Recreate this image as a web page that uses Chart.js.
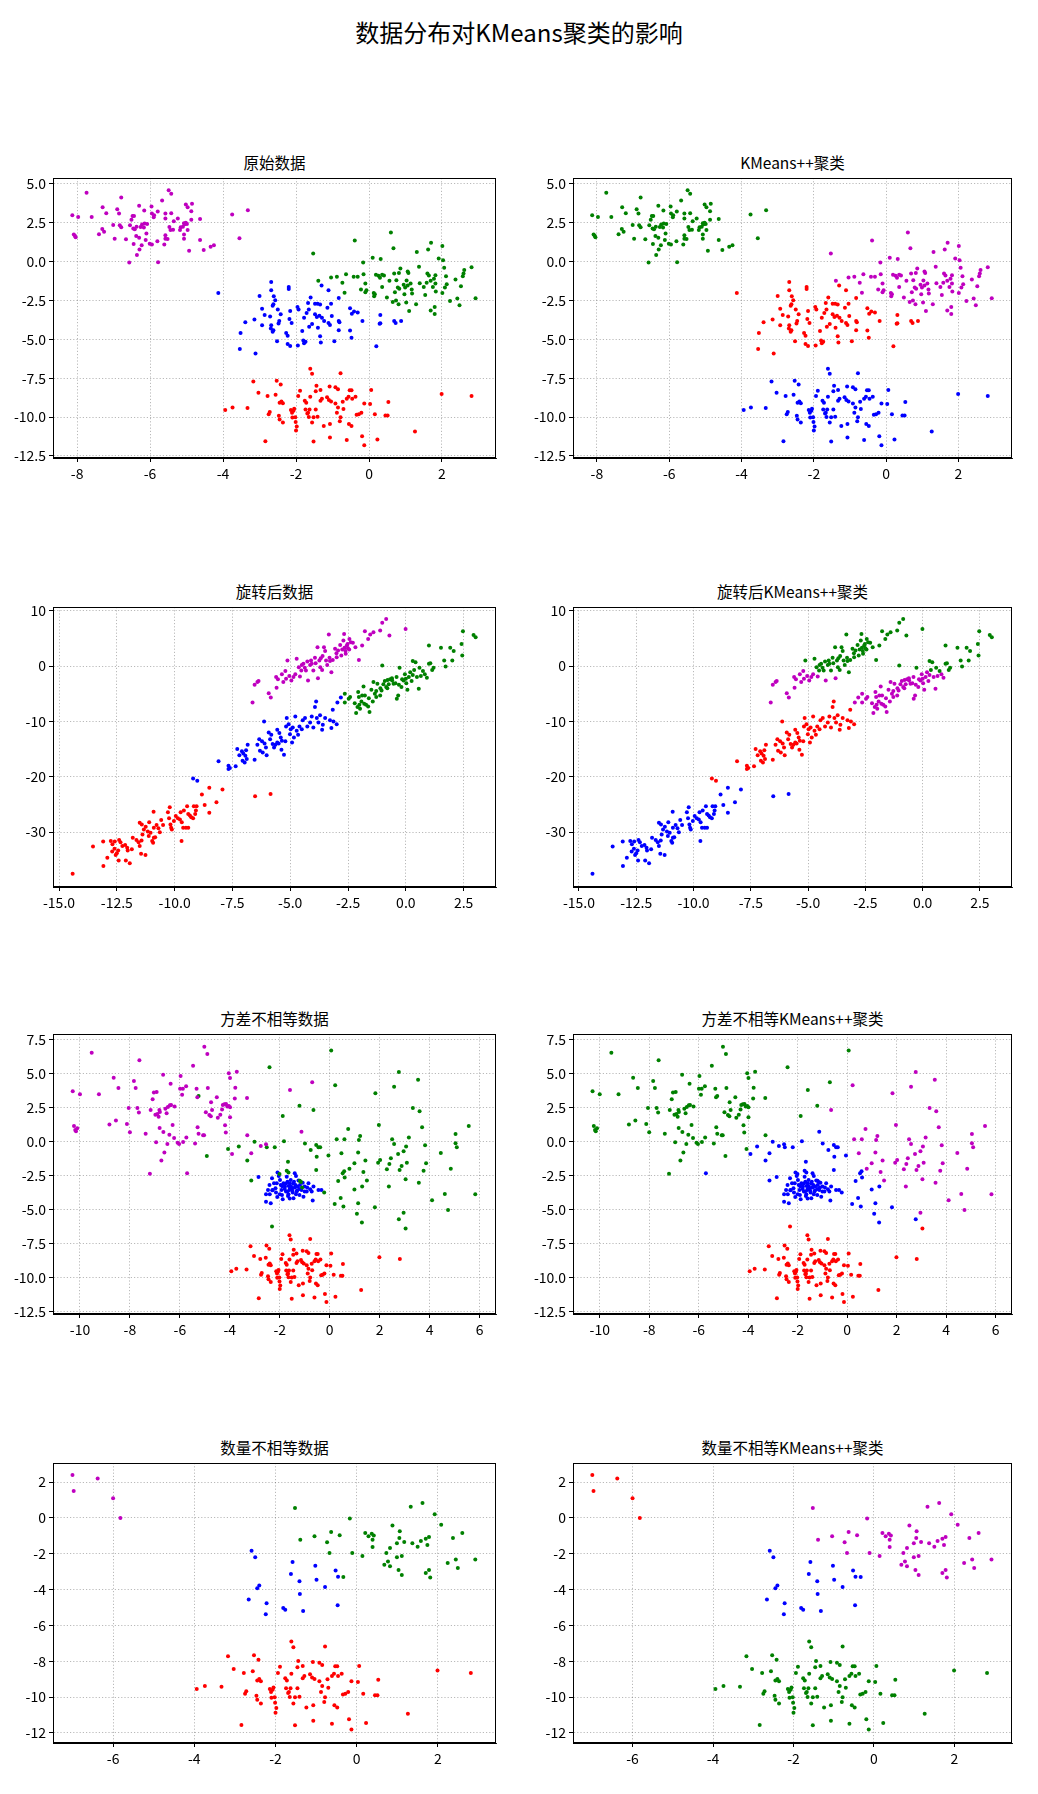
<!DOCTYPE html>
<html>
<head>
<meta charset="utf-8">
<script src="https://cdn.jsdelivr.net/npm/chart.js@4/dist/chart.umd.min.js"></script>
<style>
  html, body { margin: 0; padding: 0; background: #fff; }
  body { width: 1038px; height: 1794px; position: relative; overflow: hidden;
         font-family: "Noto Sans CJK SC", "Noto Sans", sans-serif; }
  .suptitle { position: absolute; left: 0; width: 1038px; top: 13px; text-align: center;
              font-size: 24px; line-height: 38px; color: #000; }
  .ax-title { position: absolute; text-align: center; font-size: 15.5px; line-height: 20px; color: #000; }
  canvas { position: absolute; }
</style>
</head>
<body>
<div class="suptitle">数据分布对KMeans聚类的影响</div>
<script>
// ---------- data ----------
// naming: <dataset>_<true colour><kmeans colour>

// red blob, identical in 原始 / 方差不相等 / 数量不相等
const redBlob = [[-3.94,-9.55],[-3.74,-9.38],[-3.33,-9.42],[-3.17,-7.72],[-3.03,-8.43],[-2.84,-11.55],[-2.78,-8.65],[-2.75,-9.81],[-2.72,-9.68],[-2.56,-8.56],[-2.53,-7.66],[-2.47,-9.92],[-2.45,-10.15],[-2.42,-7.91],[-2.45,-9.08],[-2.40,-8.99],[-2.36,-9.11],[-2.36,-10.35],[-2.14,-9.55],[-2.11,-9.72],[-2.10,-10.03],[-2.02,-10.01],[-2.07,-9.59],[-2.05,-9.46],[-2.01,-10.31],[-1.98,-10.61],[-2.00,-10.87],[-1.94,-8.65],[-1.89,-8.30],[-1.76,-8.95],[-1.72,-9.08],[-1.74,-9.51],[-1.69,-9.77],[-1.65,-9.99],[-1.61,-8.70],[-1.61,-6.90],[-1.56,-7.22],[-1.56,-10.35],[-1.52,-10.01],[-1.63,-9.51],[-1.67,-9.72],[-1.52,-11.57],[-1.46,-8.34],[-1.46,-9.51],[-1.44,-7.98],[-1.41,-9.98],[-1.33,-8.26],[-1.33,-8.95],[-1.29,-8.82],[-1.24,-10.58],[-1.15,-8.73],[-1.10,-8.90],[-1.04,-8.99],[-1.08,-8.04],[-1.07,-10.45],[-1.07,-11.32],[-0.92,-8.08],[-0.85,-8.21],[-0.92,-9.12],[-0.88,-9.72],[-0.85,-9.38],[-0.78,-7.18],[-0.78,-10.01],[-0.80,-10.27],[-0.72,-9.01],[-0.70,-9.48],[-0.61,-8.82],[-0.56,-8.69],[-0.61,-11.48],[-0.55,-10.45],[-0.53,-8.28],[-0.48,-8.28],[-0.48,-10.58],[-0.46,-8.82],[-0.37,-8.69],[-0.34,-9.85],[-0.28,-9.81],[-0.21,-9.72],[-0.19,-11.23],[-0.13,-11.81],[-0.13,-9.12],[0.03,-9.16],[0.06,-8.26],[0.16,-9.81],[0.23,-11.44],[0.45,-9.89],[0.51,-9.89],[0.53,-9.03],[1.26,-10.93],[1.99,-8.52],[2.81,-8.65]];

// 原始数据
const orig_mg = [[-8.13,2.98],[-7.97,2.87],[-8.09,1.73],[-8.04,1.56],[-8.06,1.65],[-7.74,4.42],[-7.60,2.87],[-7.40,1.75],[-7.30,3.49],[-7.20,3.11],[-7.31,2.09],[-7.26,1.92],[-7.01,2.35],[-6.97,1.47],[-6.90,3.36],[-6.85,3.08],[-6.79,4.12],[-6.83,2.33],[-6.79,2.20],[-6.66,1.43],[-6.57,-0.06],[-6.55,2.33],[-6.51,2.68],[-6.48,2.93],[-6.44,2.93],[-6.46,2.12],[-6.42,2.07],[-6.37,2.24],[-6.45,1.13],[-6.38,1.64],[-6.30,1.53],[-6.36,0.42],[-6.30,3.58],[-6.29,0.78],[-6.23,1.04],[-6.26,2.22],[-6.22,2.38],[-6.17,2.18],[-6.15,2.44],[-6.08,2.42],[-6.16,3.28],[-6.10,1.81],[-6.12,1.38],[-6.01,1.15],[-5.96,3.54],[-5.89,2.98],[-5.95,3.08],[-5.90,2.85],[-5.95,1.10],[-5.79,3.21],[-5.78,-0.04],[-5.80,1.30],[-5.67,3.92],[-5.61,1.10],[-5.58,3.08],[-5.58,2.76],[-5.58,1.69],[-5.58,1.47],[-5.52,1.45],[-5.49,4.59],[-5.42,4.35],[-5.47,2.22],[-5.44,2.03],[-5.42,3.11],[-5.37,2.05],[-5.35,2.59],[-5.24,2.76],[-5.18,2.03],[-5.16,2.20],[-5.10,2.24],[-5.07,2.46],[-5.02,2.50],[-5.05,2.39],[-4.99,2.41],[-4.97,2.03],[-5.07,1.73],[-5.07,1.47],[-5.02,3.67],[-4.97,3.49],[-4.87,3.24],[-4.85,3.71],[-4.93,0.70],[-4.87,2.68],[-4.63,2.74],[-4.63,1.38],[-4.53,0.74],[-4.34,0.95],[-4.25,1.04],[-3.75,3.02],[-3.55,1.49],[-3.32,3.30]];
const orig_gm = [[-1.53,0.52],[-1.39,-1.24],[-1.04,-1.03],[-0.88,-0.98],[-0.73,-1.37],[-0.67,-2.00],[-0.63,-0.81],[-0.39,1.36],[-0.42,-0.98],[-0.31,-0.98],[-0.22,-1.80],[-0.16,-0.06],[-0.15,-0.81],[-0.10,-1.97],[-0.07,-1.84],[-0.10,-1.41],[0.10,0.24],[0.13,-2.02],[0.14,-2.23],[0.16,-2.10],[0.19,-0.85],[0.26,-0.92],[0.30,-1.05],[0.36,-0.85],[0.41,-0.90],[0.32,0.16],[0.36,-1.63],[0.49,-2.32],[0.56,-1.24],[0.60,1.86],[0.67,0.85],[0.69,-0.77],[0.71,-1.97],[0.65,-2.60],[0.74,-2.50],[0.81,-2.75],[0.75,-1.20],[0.79,-1.67],[0.83,-1.75],[0.86,-0.45],[0.82,-0.73],[0.95,-1.50],[0.99,-1.67],[1.06,-1.54],[0.97,-2.10],[1.03,-1.22],[1.06,-0.64],[1.08,-0.73],[1.02,-2.64],[1.10,-3.18],[1.14,-1.41],[1.17,-1.80],[1.18,-2.06],[1.31,0.61],[1.29,-2.75],[1.37,-0.34],[1.39,-1.39],[1.50,-1.63],[1.54,-2.15],[1.58,-1.37],[1.62,0.78],[1.70,1.21],[1.60,-0.77],[1.64,-0.90],[1.69,-3.14],[1.80,-2.92],[1.80,-3.37],[1.69,-1.24],[1.75,-1.63],[1.78,-1.11],[1.82,-1.41],[1.82,-0.88],[1.83,-1.93],[1.91,0.20],[2.01,1.00],[2.03,0.09],[2.01,-2.02],[2.06,-0.40],[2.11,-0.94],[2.13,-1.46],[2.08,-1.67],[2.22,-2.53],[2.37,-1.16],[2.42,-2.38],[2.48,-2.81],[2.52,-1.59],[2.57,-0.94],[2.61,-0.55],[2.59,-0.77],[2.81,-0.36],[2.92,-2.36]];
const orig_br = [[-4.13,-2.02],[-3.52,-4.60],[-3.54,-5.63],[-3.39,-3.91],[-3.11,-5.91],[-3.14,-3.72],[-3.00,-2.21],[-2.93,-3.03],[-2.86,-3.44],[-2.93,-4.10],[-2.71,-3.54],[-2.68,-4.10],[-2.69,-4.30],[-2.64,-4.52],[-2.62,-4.41],[-2.68,-1.31],[-2.68,-1.84],[-2.61,-2.23],[-2.62,-2.75],[-2.57,-2.49],[-2.64,-2.84],[-2.52,-5.12],[-2.50,-3.09],[-2.48,-3.99],[-2.46,-3.82],[-2.42,-3.39],[-2.27,-4.60],[-2.23,-4.77],[-2.23,-5.30],[-2.16,-5.43],[-2.20,-1.63],[-2.20,-1.76],[-2.16,-3.18],[-2.12,-3.95],[-2.18,-3.70],[-1.96,-2.92],[-1.93,-3.09],[-1.95,-5.40],[-1.83,-4.47],[-1.80,-5.07],[-1.78,-5.25],[-1.74,-5.16],[-1.78,-3.61],[-1.71,-3.31],[-1.67,-2.66],[-1.65,-3.09],[-1.60,-2.32],[-1.64,-4.19],[-1.56,-4.02],[-1.48,-2.72],[-1.41,-2.72],[-1.34,-2.77],[-1.48,-3.39],[-1.43,-3.56],[-1.36,-3.48],[-1.40,-4.25],[-1.34,-4.81],[-1.32,-5.20],[-1.30,-1.54],[-1.29,-3.61],[-1.23,-3.82],[-1.14,-2.97],[-1.11,-3.95],[-1.07,-4.08],[-1.04,-2.72],[-1.02,-3.50],[-0.95,-5.12],[-0.83,-3.82],[-0.81,-3.91],[-0.83,-4.42],[-0.52,-3.00],[-0.47,-3.35],[-0.41,-3.22],[-0.52,-4.43],[-0.48,-4.90],[-0.31,-3.27],[-0.18,-3.83],[0.20,-5.44],[0.31,-3.44],[0.29,-4.00],[0.31,-3.96],[0.69,-3.82],[0.73,-3.95],[0.88,-3.82],[-1.11,-1.84],[-0.83,-2.34]];

// 旋转后数据
const rot_rb = [[-14.41,-37.5],[-13.53,-32.6],[-13.09,-31.7],[-13.08,-36.1],[-12.91,-34.6],[-12.76,-31.6],[-12.69,-32.2],[-12.59,-31.7],[-12.40,-31.4],[-12.34,-31.8],[-12.70,-33.5],[-12.60,-33.0],[-12.55,-34.1],[-12.50,-33.8],[-12.44,-33.3],[-12.42,-35.1],[-12.26,-32.5],[-12.14,-32.3],[-12.05,-32.8],[-12.03,-33.3],[-11.85,-33.1],[-12.11,-35.1],[-11.94,-35.6],[-11.81,-31.0],[-11.65,-31.4],[-11.56,-31.8],[-11.51,-32.5],[-11.43,-31.5],[-11.45,-33.9],[-11.26,-34.1],[-11.51,-28.3],[-11.42,-28.6],[-11.33,-29.5],[-11.39,-30.4],[-11.25,-29.0],[-11.16,-29.9],[-11.04,-30.1],[-11.12,-30.7],[-10.93,-31.9],[-10.97,-31.6],[-10.90,-31.0],[-11.10,-28.2],[-10.90,-29.2],[-10.78,-28.7],[-10.70,-29.3],[-10.84,-30.9],[-10.91,-26.3],[-10.58,-27.8],[-10.50,-28.7],[-10.64,-30.0],[-10.29,-26.4],[-10.21,-25.5],[-10.24,-27.5],[-10.18,-28.6],[-10.12,-29.5],[-10.15,-29.2],[-10.03,-28.0],[-9.95,-27.1],[-9.86,-27.5],[-9.77,-27.7],[-9.74,-26.4],[-9.69,-28.2],[-9.70,-31.6],[-9.63,-29.2],[-9.51,-29.2],[-9.41,-29.2],[-9.60,-26.1],[-9.46,-25.3],[-9.41,-26.7],[-9.34,-27.0],[-9.28,-27.3],[-9.20,-27.5],[-9.11,-26.7],[-9.17,-25.3],[-9.05,-25.3],[-9.08,-26.1],[-8.82,-23.2],[-8.70,-25.1],[-8.50,-22.0],[-8.50,-26.5],[-8.19,-24.6],[-7.93,-22.3],[-6.52,-23.5],[-5.85,-23.1]];
const rot_br = [[-9.20,-20.3],[-9.02,-20.7],[-8.10,-17.2],[-7.67,-18.0],[-7.61,-18.4],[-7.67,-18.6],[-7.36,-18.1],[-7.29,-15.0],[-7.20,-16.1],[-7.09,-15.4],[-7.03,-15.8],[-6.94,-16.2],[-7.06,-17.1],[-6.97,-17.4],[-6.88,-16.8],[-6.91,-15.2],[-6.84,-14.2],[-6.54,-16.9],[-6.42,-14.2],[-6.34,-13.2],[-6.31,-15.3],[-6.22,-13.6],[-6.19,-15.6],[-6.11,-14.0],[-6.13,-10.0],[-6.05,-14.7],[-6.02,-16.1],[-5.93,-12.0],[-5.87,-13.2],[-5.82,-12.4],[-5.76,-14.1],[-5.70,-14.7],[-5.64,-14.2],[-5.56,-13.8],[-5.50,-14.0],[-5.38,-15.1],[-5.56,-11.5],[-5.47,-12.1],[-5.41,-12.9],[-5.36,-13.5],[-5.27,-16.0],[-5.21,-13.6],[-5.18,-10.9],[-5.15,-9.4],[-5.07,-10.5],[-5.01,-12.3],[-4.92,-13.8],[-4.98,-11.4],[-4.89,-11.1],[-4.84,-12.9],[-4.78,-9.1],[-4.72,-11.7],[-4.66,-12.4],[-4.60,-10.9],[-4.50,-11.4],[-4.46,-9.8],[-4.36,-9.4],[-4.26,-10.9],[-4.14,-10.2],[-4.07,-9.1],[-4.00,-11.1],[-3.93,-7.4],[-3.88,-6.4],[-3.85,-9.4],[-3.78,-10.2],[-3.71,-8.9],[-3.62,-11.5],[-3.59,-10.6],[-3.49,-9.4],[-3.28,-9.8],[-3.22,-11.2],[-3.16,-7.9],[-3.13,-10.0],[-2.99,-10.5]];
const rot_bm = [[-2.96,-6.6],[-2.81,-5.7]];
const rot_mm = [[-6.63,-6.6],[-6.54,-3.4],[-6.42,-2.9],[-6.37,-2.7],[-5.93,-4.9],[-5.84,-5.7],[-5.61,-2.0],[-5.53,-2.4],[-5.59,-3.9],[-5.36,-1.5],[-5.30,-2.9],[-5.21,-0.9],[-5.18,-2.3],[-5.04,-1.8],[-4.95,-2.6],[-4.86,-2.0],[-4.78,-1.5],[-4.58,-1.9],[-4.23,-2.6],[-3.80,-2.2]];
const rot_mg = [[-5.12,1.0],[-4.72,1.3],[-4.63,-0.2],[-4.52,-0.8],[-4.43,0.4],[-4.37,-0.3],[-4.32,-0.8],[-4.26,0.8],[-4.14,0.2],[-4.07,0.4],[-4.00,-0.8],[-3.93,1.5],[-3.82,3.4],[-3.74,1.0],[-3.68,1.4],[-3.62,-0.7],[-3.54,3.4],[-3.49,2.7],[-3.45,1.0],[-3.33,5.7],[-3.28,0.9],[-3.22,-1.1],[-3.16,1.1],[-3.06,3.1],[-2.99,1.6],[-2.93,2.8],[-2.84,3.8],[-2.79,1.9],[-2.70,4.6],[-2.67,5.8],[-2.61,2.7],[-2.55,3.7],[-2.50,3.2],[-2.44,4.9],[-2.38,4.3],[-2.29,4.2],[-2.18,3.4],[-2.03,1.1],[-1.89,3.7],[-1.77,6.3],[-1.63,4.9],[-1.54,5.7],[-1.40,6.1],[-1.11,6.4],[-1.02,7.8],[-0.85,8.5],[-0.71,5.5],[-0.01,6.7],[-4.5,0.2],[-4.1,1.0],[-3.9,0.5],[-3.6,1.8],[-3.3,1.5],[-3.0,2.3],[-2.75,3.0],[-2.65,3.3],[-2.6,2.2],[-2.45,3.0],[-2.52,4.0],[-3.4,0.2],[-3.7,-0.2]];
const rot_gg = [[-1.02,0.1],[-0.27,-0.3],[0.30,0.9],[0.36,-0.7],[0.42,0.7],[0.59,-0.3],[0.74,-0.9],[1.00,0.4],[1.06,0.5],[1.14,-0.7],[1.20,-0.3],[1.52,3.3],[1.66,1.0],[1.72,-0.1],[1.92,3.3],[2.01,1.0],[2.07,2.7],[2.41,4.0],[2.44,1.9],[2.47,6.3],[2.93,5.6],[3.02,5.2],[1.00,3.7]];
const rot_gm = [[-2.64,-5.0],[-2.64,-6.6],[-2.47,-5.9],[-2.41,-5.6],[-2.21,-6.7],[-2.15,-8.5],[-2.09,-7.4],[-2.06,-4.7],[-2.03,-5.6],[-2.01,-7.0],[-1.98,-7.7],[-1.92,-6.4],[-1.89,-5.3],[-1.83,-3.7],[-1.80,-6.8],[-1.77,-5.3],[-1.72,-7.0],[-1.63,-7.3],[-1.57,-8.3],[-1.49,-4.3],[-1.43,-6.4],[-1.40,-2.9],[-1.34,-5.0],[-1.28,-4.5],[-1.28,-5.6],[-1.23,-3.2],[-1.11,-5.3],[-1.05,-4.4],[-0.97,-3.3],[-0.91,-2.7],[-0.85,-3.8],[-0.79,-2.5],[-0.74,-3.3],[-0.68,-2.4],[-0.59,-2.6],[-0.53,-3.2],[-0.45,-3.1],[-0.39,-5.9],[-0.33,-5.3],[-0.19,-3.8],[-0.16,-2.4],[-0.10,-2.6],[-0.04,-1.5],[0.02,-3.1],[0.07,-4.3],[0.13,-2.0],[0.19,-1.1],[0.25,-2.7],[0.48,-2.0],[0.56,-4.1],[0.65,-1.8],[0.82,-1.5],[0.91,-2.1],[-0.6,-2.2],[-0.4,-2.0],[-0.3,-3.4],[0.0,-2.3],[0.3,-1.6],[-0.8,-4.0],[-1.1,-4.0],[-1.6,-5.8]];

// 方差不相等数据
const var_mg = [[-10.29,3.68],[-10.00,3.46],[-10.24,1.13],[-10.19,0.83],[-10.11,0.96],[-10.16,0.74],[-9.53,6.52],[-9.24,3.46],[-8.82,1.23],[-8.65,4.68],[-8.56,1.52],[-8.46,3.92],[-8.12,1.27],[-8.05,2.45],[-8.00,0.66],[-7.84,4.44],[-7.77,3.92],[-7.70,2.45],[-7.64,2.11],[-7.62,5.96],[-7.37,0.56],[-7.20,-2.38],[-7.17,2.30],[-7.09,3.09],[-7.04,3.58],[-6.93,3.63],[-6.98,1.96],[-6.90,2.01],[-6.85,1.81],[-6.82,2.30],[-6.80,2.16],[-6.95,-0.07],[-6.81,0.98],[-6.74,-1.42],[-6.67,4.90],[-6.66,0.69],[-6.62,-0.83],[-6.58,2.40],[-6.53,2.06],[-6.48,2.52],[-6.40,2.65],[-6.50,-0.20],[-6.42,0.49],[-6.37,4.24],[-6.35,2.67],[-6.29,1.20],[-6.23,0.25],[-6.21,2.55],[-6.09,-0.10],[-6.03,-0.20],[-5.97,4.80],[-5.99,3.87],[-5.88,3.87],[-5.91,3.43],[-5.87,-0.05],[-5.75,4.04],[-5.74,0.27],[-5.47,5.56],[-5.39,-0.17],[-5.33,3.87],[-5.30,3.24],[-5.29,1.03],[-5.25,0.56],[-5.07,0.44],[-5.03,0.44],[-5.02,6.96],[-4.96,2.13],[-4.90,6.42],[-4.88,3.92],[-4.82,1.94],[-4.76,1.84],[-4.75,2.87],[-4.71,2.30],[-4.52,3.24],[-4.48,1.74],[-4.38,1.96],[-4.31,2.33],[-4.28,2.67],[-4.22,2.72],[-4.15,2.74],[-4.10,2.55],[-4.04,2.60],[-3.99,2.50],[-4.19,1.18],[-4.16,0.64],[-4.04,5.00],[-3.99,4.66],[-3.99,1.76],[-3.80,3.14],[-3.78,3.94],[-3.72,5.12],[-3.31,3.19],[-3.30,0.44],[-1.59,3.77],[-0.70,4.34]];
const var_mb = [[-5.71,-2.35],[-2.76,-0.34],[-2.55,-0.22],[-3.14,-0.88],[-3.91,-0.93],[-1.13,0.71]];
const var_gg = [[-4.92,-1.08],[-4.07,-0.56],[-2.41,5.44],[0.06,6.67],[-1.21,2.62],[-1.88,1.86],[-5.25,3.33]];
const var_gm = [[0.22,4.12],[-0.65,2.30],[0.28,0.15],[0.59,0.15],[0.47,-0.88],[0.74,0.91],[0.79,-2.01],[0.99,-1.62],[1.14,-0.83],[1.17,0.10],[1.22,0.39],[1.35,-2.25],[1.43,-1.42],[1.49,-2.89],[1.83,3.53],[1.94,-1.57],[2.02,-1.37],[1.97,1.20],[2.29,-2.06],[2.37,-3.33],[2.39,-1.67],[2.45,-1.25],[2.50,0.15],[2.58,4.02],[2.58,-0.20],[2.74,-0.93],[2.77,5.10],[2.80,-2.11],[2.88,-1.81],[2.96,-0.74],[2.96,-5.25],[3.04,-2.79],[3.06,-0.39],[3.09,-1.57],[3.17,0.27],[3.33,2.45],[3.54,4.53],[3.57,-3.04],[3.60,2.21],[3.70,1.03],[3.76,-2.16],[3.82,-0.29],[3.86,-1.62],[4.10,-4.34],[4.45,-0.86],[4.61,-3.87],[4.74,-5.05],[4.85,-2.01],[5.04,0.54],[5.04,-0.15],[5.09,-0.44],[5.57,1.13],[5.83,-3.90]];
const var_gb = [[-3.64,-0.39],[-3.01,-0.03],[-3.30,-1.42],[-3.14,-2.89],[-2.52,-0.44],[-2.20,-0.44],[-1.83,0.00],[-1.67,-1.50],[-0.99,-0.17],[-0.76,-0.64],[-0.54,-0.27],[-0.45,-0.44],[-0.38,-0.44],[-0.52,-1.13],[-0.54,-2.11],[-0.05,-1.05],[-0.22,-3.77],[0.20,-4.61],[0.34,-2.92],[0.44,-4.17],[0.52,-2.35],[0.58,-2.21],[0.60,-2.67],[0.55,-4.80],[0.99,-3.55],[1.14,-4.56],[1.09,-5.32],[1.29,-5.98],[1.30,-3.33],[1.81,-4.85],[2.77,-5.74],[-1.72,-2.16],[-1.65,-2.30],[-1.20,-2.90],[-1.10,-3.40],[-1.15,-3.00],[-2.01,-2.40]];
const var_gr = [[-2.31,-6.27],[3.04,-6.42]];
const var_bb = [[-2.85,-2.62],[-2.55,-3.90],[-2.55,-4.44],[-2.36,-4.56],[-2.47,-3.58],[-2.41,-3.21],[-2.31,-2.72],[-2.28,-3.58],[-2.23,-3.09],[-2.17,-3.46],[-2.15,-3.77],[-2.12,-3.09],[-2.09,-2.30],[-2.04,-2.55],[-1.99,-2.84],[-1.96,-3.21],[-1.93,-3.58],[-1.91,-3.95],[-1.88,-4.26],[-1.85,-3.09],[-1.79,-3.33],[-1.75,-3.70],[-1.72,-2.60],[-1.69,-2.97],[-1.67,-4.02],[-1.64,-3.28],[-1.61,-3.58],[-1.59,-3.09],[-1.56,-2.84],[-1.52,-3.46],[-1.48,-3.77],[-1.45,-4.19],[-1.43,-2.97],[-1.40,-2.35],[-1.37,-3.21],[-1.35,-2.55],[-1.32,-3.70],[-1.29,-3.33],[-1.25,-2.89],[-1.21,-3.95],[-1.19,-3.21],[-1.13,-3.58],[-1.08,-3.04],[-1.05,-4.07],[-1.00,-3.33],[-0.92,-3.70],[-0.85,-3.09],[-0.78,-3.53],[-0.72,-3.70],[-0.65,-3.33],[-0.68,-4.36],[-0.45,-3.58],[-0.33,-3.58],[-1.60,-3.50],[-1.50,-3.60],[-1.70,-3.70],[-1.40,-3.40],[-1.80,-3.50],[-1.55,-3.30],[-1.65,-3.90],[-1.30,-3.60],[-1.90,-3.30],[-1.45,-3.10],[-2.00,-3.90],[-1.20,-3.50],[-1.75,-3.10],[-1.35,-3.90],[-1.60,-4.20],[-2.30,-3.60],[-2.40,-3.90],[-2.10,-4.10],[-1.00,-3.70],[-0.90,-3.40]];

// 数量不相等数据
const cnt_mr = [[-7.00,2.39],[-6.97,1.50],[-6.38,2.19],[-6.00,1.09],[-5.82,-0.01]];
const cnt_bb = [[-2.59,-1.83],[-2.50,-2.20],[-2.66,-4.56],[-2.45,-3.93],[-2.40,-3.78],[-2.22,-4.77],[-2.24,-5.38],[-1.81,-5.03],[-1.76,-5.12],[-1.58,-2.46],[-1.62,-3.13],[-1.41,-3.54],[-1.40,-4.25],[-1.32,-5.19],[-1.02,-2.67],[-0.99,-3.45],[-0.78,-3.86],[-0.52,-2.94],[-0.46,-3.28],[-0.47,-4.88]];
const cnt_gb = [[-0.33,-3.30]];
const cnt_gm = [[-1.52,0.55],[-1.39,-1.22],[-1.04,-1.03],[-0.73,-1.36],[-0.67,-1.96],[-0.63,-0.79],[-0.42,-0.97],[-0.17,-0.04],[-0.11,-1.96],[0.14,-2.13],[0.21,-0.84],[0.29,-1.03],[0.37,-0.88],[0.42,-0.99],[0.39,-1.22],[0.39,-1.62],[0.68,-2.61],[0.73,-1.96],[0.77,-2.44],[0.82,-1.68],[0.82,-2.70],[0.88,-0.43],[0.99,-1.42],[0.99,-2.20],[1.06,-0.75],[1.05,-1.12],[1.03,-2.91],[1.11,-2.13],[1.11,-3.19],[1.17,-1.35],[1.33,0.62],[1.37,-1.42],[1.50,-1.61],[1.58,-1.29],[1.62,0.83],[1.70,-1.16],[1.78,-1.07],[1.74,-1.51],[1.70,-3.07],[1.78,-2.91],[1.81,-3.33],[1.92,0.20],[2.08,-0.38],[2.24,-2.52],[2.37,-1.12],[2.44,-2.33],[2.49,-2.80],[2.60,-0.84],[2.92,-2.33]];

// axis ticks
const origXTicks = [-8, -6, -4, -2, 0, 2];
const origYTicks = [5, 2.5, 0, -2.5, -5, -7.5, -10, -12.5];
const rotXTicks = [-15, -12.5, -10, -7.5, -5, -2.5, 0, 2.5];
const rotYTicks = [10, 0, -10, -20, -30];
const varXTicks = [-10, -8, -6, -4, -2, 0, 2, 4, 6];
const varYTicks = [7.5, 5, 2.5, 0, -2.5, -5, -7.5, -10, -12.5];
const cntXTicks = [-6, -4, -2, 0, 2];
const cntYTicks = [2, 0, -2, -4, -6, -8, -10, -12];

const titlesLeft = ['原始数据', '旋转后数据', '方差不相等数据', '数量不相等数据'];
const titlesRight = ['KMeans++聚类', '旋转后KMeans++聚类', '方差不相等KMeans++聚类', '数量不相等KMeans++聚类'];

// ---------- layout / styling ----------
const colors = { r: '#ff0000', g: '#008000', b: '#0000ff', m: '#bf00bf' };
const FONT = '"Noto Sans CJK SC", "Noto Sans", sans-serif';

const rows = [
    { top: 178, groups: [[orig_mg,'m','g'],[orig_gm,'g','m'],[orig_br,'b','r'],[redBlob,'r','b']],
      x: [-8.66, 3.48], y: [-12.63, 5.37], xt: origXTicks, yt: origYTicks, xd: 0, yd: 1 },
    { top: 607, groups: [[rot_rb,'r','b'],[rot_br,'b','r'],[rot_bm,'b','m'],[rot_mm,'m','m'],[rot_mg,'m','g'],[rot_gg,'g','g'],[rot_gm,'g','m']],
      x: [-15.26, 3.90], y: [-39.9, 10.66], xt: rotXTicks, yt: rotYTicks, xd: 1, yd: 0 },
    { top: 1034, groups: [[var_mg,'m','g'],[var_mb,'m','b'],[var_gg,'g','g'],[var_gm,'g','m'],[var_gb,'g','b'],[var_gr,'g','r'],[var_bb,'b','b'],[redBlob,'r','r']],
      x: [-11.08, 6.66], y: [-12.70, 7.89], xt: varXTicks, yt: varYTicks, xd: 0, yd: 1 },
    { top: 1463, groups: [[cnt_mr,'m','r'],[cnt_bb,'b','b'],[cnt_gb,'g','b'],[cnt_gm,'g','m'],[redBlob,'r','g']],
      x: [-7.48, 3.43], y: [-12.56, 3.06], xt: cntXTicks, yt: cntYTicks, xd: 0, yd: 0 }
];
const cols = [ { left: 53, width: 443 }, { left: 573, width: 439 } ];
const BOX_H = 280, YW = 52, XH = 30, PAD_T = 12, PAD_R = 12;

const framePlugin = {
    id: 'frame',
    afterDraw(chart) {
        const a = chart.chartArea, ctx = chart.ctx;
        ctx.save();
        ctx.strokeStyle = '#000';
        ctx.lineWidth = 1;
        ctx.strokeRect(Math.round(a.left) + 0.5, Math.round(a.top) + 0.5,
                       Math.round(a.right - a.left) - 1, Math.round(a.bottom - a.top) - 1);
        ctx.restore();
    }
};

function axis(range, ticks, dec, isY) {
    return {
        type: 'linear',
        min: range[0], max: range[1],
        afterBuildTicks: s => { s.ticks = ticks.map(v => ({ value: v })); },
        afterFit: s => { if (isY) s.width = YW; else s.height = XH; },
        ticks: { callback: v => v.toFixed(dec), color: '#000', padding: 3,
                 font: { family: FONT, size: 14 }, autoSkip: false, maxRotation: 0 },
        grid: { color: 'rgba(0,0,0,0.35)', lineWidth: 0.8, tickColor: '#000', tickLength: 4,
                tickWidth: 1, tickBorderDash: [] },
        border: { display: true, color: '#000', width: 1, dash: [1.2, 2] }
    };
}

function drawPanel(row, col, side, title) {
    const t = document.createElement('div');
    t.className = 'ax-title';
    t.style.left = col.left + 'px';
    t.style.width = col.width + 'px';
    t.style.top = (row.top - 26) + 'px';
    t.textContent = title;
    document.body.appendChild(t);

    const canvas = document.createElement('canvas');
    const w = YW + col.width + PAD_R, h = PAD_T + BOX_H + XH;
    canvas.width = w; canvas.height = h;
    canvas.style.width = w + 'px'; canvas.style.height = h + 'px';
    canvas.style.left = (col.left - YW) + 'px';
    canvas.style.top = (row.top - PAD_T) + 'px';
    document.body.appendChild(canvas);

    const datasets = row.groups.map(g => ({
        data: g[0].map(p => ({ x: p[0], y: p[1] })),
        backgroundColor: colors[g[side]],
        pointRadius: 2,
        pointBorderWidth: 0,
        pointHoverRadius: 2
    }));

    new Chart(canvas.getContext('2d'), {
        type: 'scatter',
        data: { datasets: datasets },
        options: {
            responsive: false,
            animation: false,
            events: [],
            layout: { padding: { top: PAD_T, right: PAD_R, left: 0, bottom: 0 } },
            plugins: { legend: { display: false }, tooltip: { enabled: false } },
            scales: {
                x: axis(row.x, row.xt, row.xd, false),
                y: axis(row.y, row.yt, row.yd, true)
            }
        },
        plugins: [framePlugin]
    });
}

rows.forEach((row, i) => {
    drawPanel(row, cols[0], 1, titlesLeft[i]);
    drawPanel(row, cols[1], 2, titlesRight[i]);
});
</script>
</body>
</html>
